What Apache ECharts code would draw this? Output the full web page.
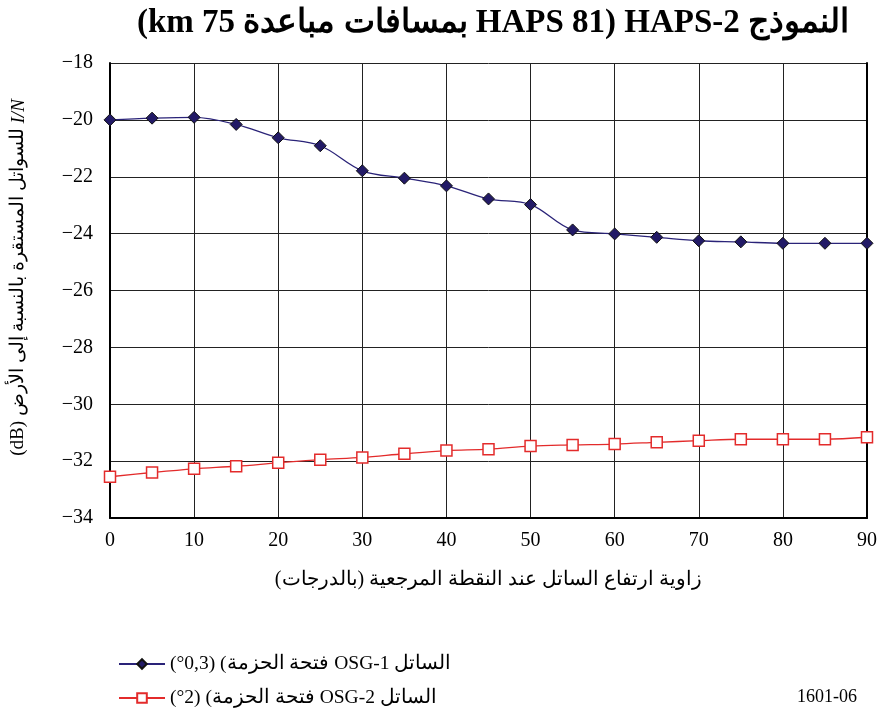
<!DOCTYPE html>
<html>
<head>
<meta charset="utf-8">
<script src="https://cdn.jsdelivr.net/npm/echarts@6/dist/echarts.min.js"></script>
<style>html,body{margin:0;padding:0;background:#fff}#c{width:880px;height:718px}</style>
</head>
<body>
<div id="c"></div>
<script>
const elevation = [0,5,10,15,20,25,30,35,40,45,50,55,60,65,70,75,80,85,90];
const osg1 = [-20.0,-19.94,-19.91,-20.16,-20.63,-20.91,-21.79,-22.05,-22.32,-22.78,-22.98,-23.87,-24.01,-24.13,-24.25,-24.29,-24.34,-24.34,-24.34];
const osg2 = [-32.55,-32.4,-32.27,-32.18,-32.06,-31.95,-31.87,-31.74,-31.63,-31.58,-31.47,-31.43,-31.4,-31.34,-31.28,-31.23,-31.23,-31.23,-31.16];
const titleText = "(km 75 بمسافات مباعدة HAPS 81) HAPS-2 النموذج";
const xName = "زاوية ارتفاع الساتل عند النقطة المرجعية (بالدرجات)";
const yNameMain = "(dB) للسواتل المستقرة بالنسبة إلى الأرض ";
const yNameItalic = "I/N";
const name1 = "OSG-1";
const name2 = "OSG-2";
// legend text pieces in visual (left-to-right) order
const legend1Parts = ["(°0,3) (", "فتحة الحزمة", " OSG-1 ", "الساتل"];
const legend2Parts = ["(°2) (", "فتحة الحزمة", " OSG-2 ", "الساتل"];
const figId = "1601-06";

const serif = '"Liberation Serif","DejaVu Serif",serif';
const chart = echarts.init(document.getElementById('c'));
const pair = (xs, ys) => xs.map((x, i) => [x, ys[i]]);
const richFmt = parts => () => parts.map(p => '{t|' + p + '}').join('');
const legendCommon = {
  orient: 'vertical', left: 118, padding: 0, itemWidth: 46, itemHeight: 12, itemGap: 0,
  textStyle: {fontFamily: serif, fontSize: 19.5, color: '#000',
    rich: {t: {fontFamily: serif, fontSize: 19.5, color: '#000'}}}
};
chart.setOption({
  animation: false,
  textStyle: {fontFamily: serif},
  title: {
    text: titleText, left: 488, top: 2, textAlign: 'center',
    textStyle: {fontFamily: serif, fontSize: 33, fontWeight: 'bold', color: '#000'}
  },
  grid: {left: 110, right: 11, top: 63, bottom: 200},
  xAxis: {
    type: 'value', min: 0, max: 90, interval: 10,
    name: xName, nameLocation: 'middle', nameGap: 52,
    nameTextStyle: {fontFamily: serif, fontSize: 20, color: '#000'},
    axisLine: {show: true, lineStyle: {color: '#000', width: 2}},
    axisTick: {show: false},
    axisLabel: {fontFamily: serif, fontSize: 20, color: '#000', margin: 13},
    splitLine: {show: true, lineStyle: {color: '#222', width: 1}}
  },
  yAxis: [{
    type: 'value', min: -34, max: -18, interval: 2,
    name: '{a|' + yNameMain + '}{b|' + yNameItalic + '}', nameLocation: 'middle', nameGap: 82, nameRotate: 90,
    nameTextStyle: {padding: [0, 0, 0, 26], rich: {
      a: {fontFamily: serif, fontSize: 19, color: '#000'},
      b: {fontFamily: serif, fontSize: 19, color: '#000', fontStyle: 'italic'}
    }},
    axisLine: {show: true, lineStyle: {color: '#000', width: 2}},
    axisTick: {show: false},
    axisLabel: {fontFamily: serif, fontSize: 20, color: '#000', margin: 17,
      formatter: v => String(v).replace('-', '\u2212')},
    splitLine: {show: true, lineStyle: {color: '#222', width: 1}}
  }, {
    type: 'value', min: -34, max: -18, interval: 2, position: 'right',
    axisLine: {show: true, lineStyle: {color: '#000', width: 2}},
    axisTick: {show: false}, axisLabel: {show: false}, splitLine: {show: false}
  }],
  legend: [
    Object.assign({}, legendCommon, {top: 654, data: [name1], formatter: richFmt(legend1Parts)}),
    Object.assign({}, legendCommon, {top: 688, data: [name2], formatter: richFmt(legend2Parts)})
  ],
  graphic: [{
    type: 'text', left: 797, top: 688,
    style: {text: figId, font: '18px "Liberation Serif", serif', fill: '#000'}
  }],
  series: [{
    name: name1, type: 'line', data: pair(elevation, osg1), smooth: 0.35,
    symbol: 'diamond', symbolSize: 12,
    lineStyle: {color: '#2a2378', width: 1.3},
    itemStyle: {color: '#221a66', borderColor: '#111', borderWidth: 1}
  }, {
    name: name2, type: 'line', data: pair(elevation, osg2), smooth: 0.35,
    symbol: 'rect', symbolSize: 11,
    lineStyle: {color: '#e32b2b', width: 1.3},
    itemStyle: {color: '#fff', borderColor: '#e32b2b', borderWidth: 1.5}
  }]
});
</script>
</body>
</html>
